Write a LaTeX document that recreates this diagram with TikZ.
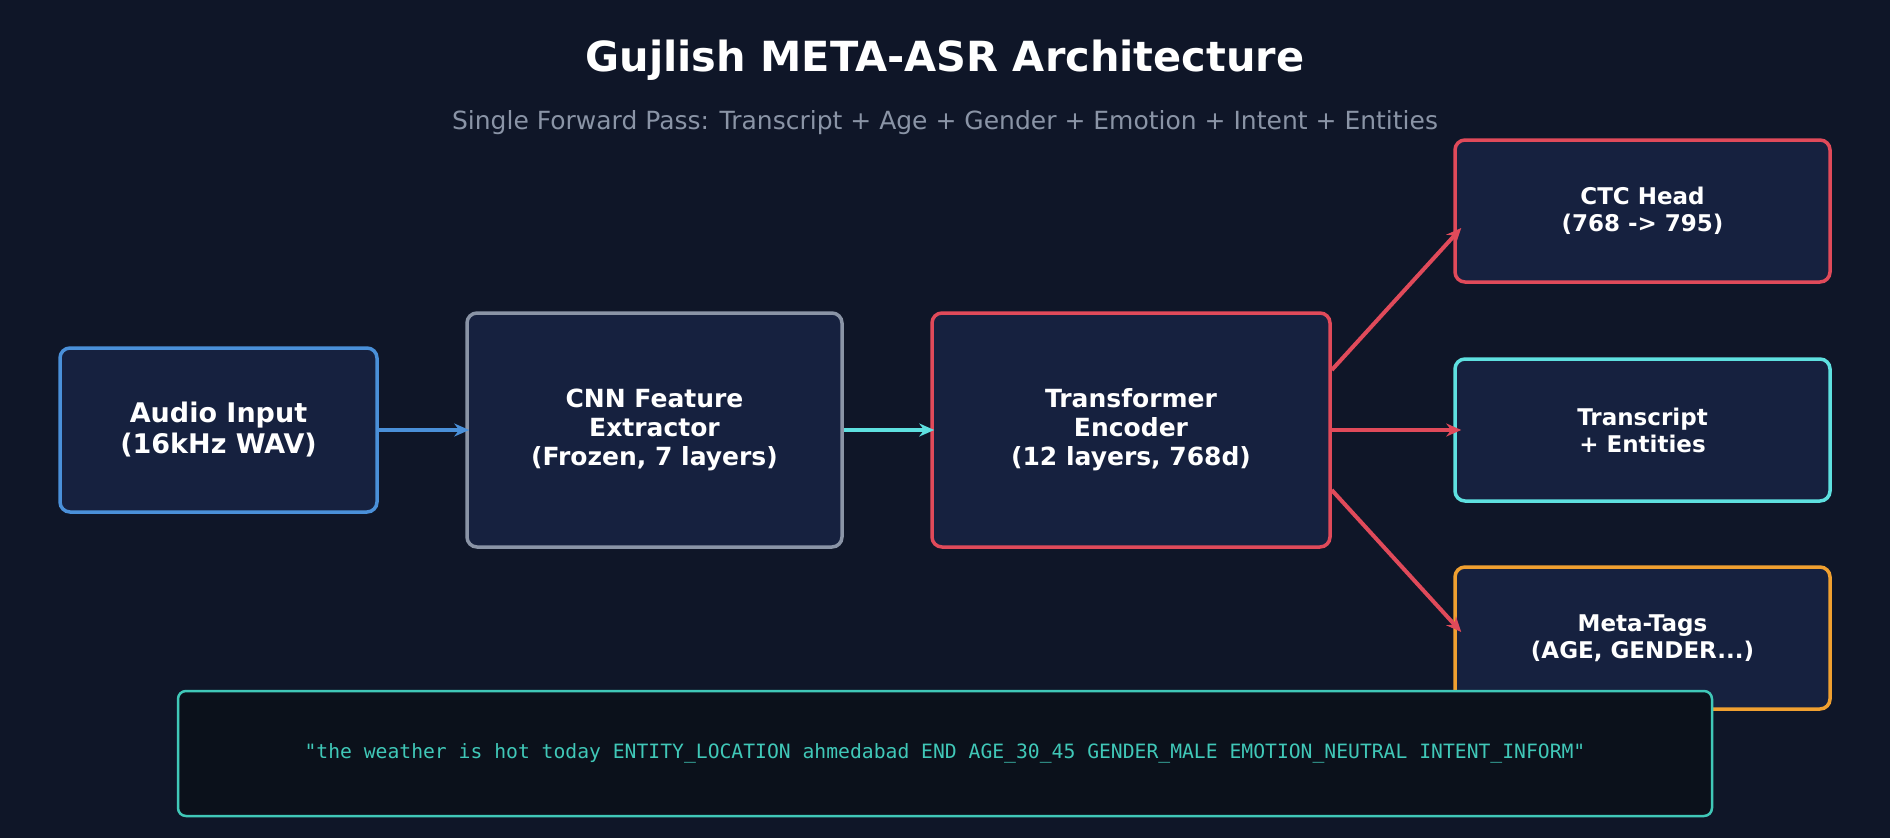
\documentclass[tikz,border=0pt]{standalone}
\usepackage{fontspec}
\setmainfont{DejaVu Sans}
\setmonofont{DejaVu Sans Mono}
\usetikzlibrary{arrows.meta}
\definecolor{bg}{HTML}{0F1628}
\definecolor{boxfill}{HTML}{16213F}
\definecolor{cblue}{HTML}{4A90D9}
\definecolor{cgray}{HTML}{8A94A6}
\definecolor{cred}{HTML}{E04A5A}
\definecolor{ccyan}{HTML}{5EE0E0}
\definecolor{corange}{HTML}{F0A030}
\definecolor{cteal}{HTML}{40C8B8}
\definecolor{codefill}{HTML}{0B111B}
\begin{document}
\begin{tikzpicture}[x=1pt,y=-1pt,
  box/.style={draw,line width=3.5pt,fill=boxfill,rounded corners=10pt,text=white,align=center,font=\bfseries\fontsize{25}{29}\selectfont},
  arr/.style={line width=4pt,-{Stealth[length=15pt,width=13pt]}}]
\fill[bg] (0,0) rectangle (1890,838);
\useasboundingbox (0,0) rectangle (1890,838);
\node[text=white,font=\bfseries\fontsize{41.5}{48}\selectfont] (title) at (945,60) {Gujlish META-ASR Architecture};
\node[text=cgray,font=\fontsize{25}{30}\selectfont] (sub) at (945,123) {Single Forward Pass: Transcript + Age + Gender + Emotion + Intent + Entities};
\node[box,draw=cblue,minimum width=317pt,minimum height=164pt,font=\bfseries\fontsize{27}{31}\selectfont] (audio) at (218.5,430) {Audio Input\\(16kHz WAV)};
\node[box,draw=cgray,minimum width=375pt,minimum height=234pt] (cnn) at (654.5,430) {CNN Feature\\Extractor\\(Frozen, 7 layers)};
\node[box,draw=cred,minimum width=398pt,minimum height=234pt] (tr) at (1131,430) {Transformer\\Encoder\\(12 layers, 768d)};
\node[box,draw=cred,minimum width=375pt,minimum height=142pt,font=\bfseries\fontsize{23}{27}\selectfont] (ctc) at (1642.5,211) {CTC Head\\(768 -> 795)};
\node[box,draw=ccyan,minimum width=375pt,minimum height=142pt,font=\bfseries\fontsize{23}{27}\selectfont] (tx) at (1642.5,430) {Transcript\\+ Entities};
\node[box,draw=corange,minimum width=375pt,minimum height=142pt,font=\bfseries\fontsize{23}{27}\selectfont] (meta) at (1642.5,638) {Meta-Tags\\(AGE, GENDER...)};
\node[draw=cteal,line width=2.5pt,fill=codefill,rounded corners=8pt,minimum width=1534pt,minimum height=125pt,text=cteal,font=\ttfamily\fontsize{19.7}{23}\selectfont] (code) at (945,753.5) {"the weather is hot today ENTITY\_LOCATION ahmedabad END AGE\_30\_45 GENDER\_MALE EMOTION\_NEUTRAL INTENT\_INFORM"};
\draw[arr,cblue] (audio.east) -- ([xshift=4pt]cnn.west);
\draw[arr,ccyan] (cnn.east) -- ([xshift=4pt]tr.west);
\draw[arr,cred] ([yshift=60pt]tr.east) -- ([xshift=8pt,yshift=-17pt]ctc.west);
\draw[arr,cred] (tr.east) -- ([xshift=8pt]tx.west);
\draw[arr,cred] ([yshift=-60pt]tr.east) -- ([xshift=8pt,yshift=6pt]meta.west);
\end{tikzpicture}
\end{document}
